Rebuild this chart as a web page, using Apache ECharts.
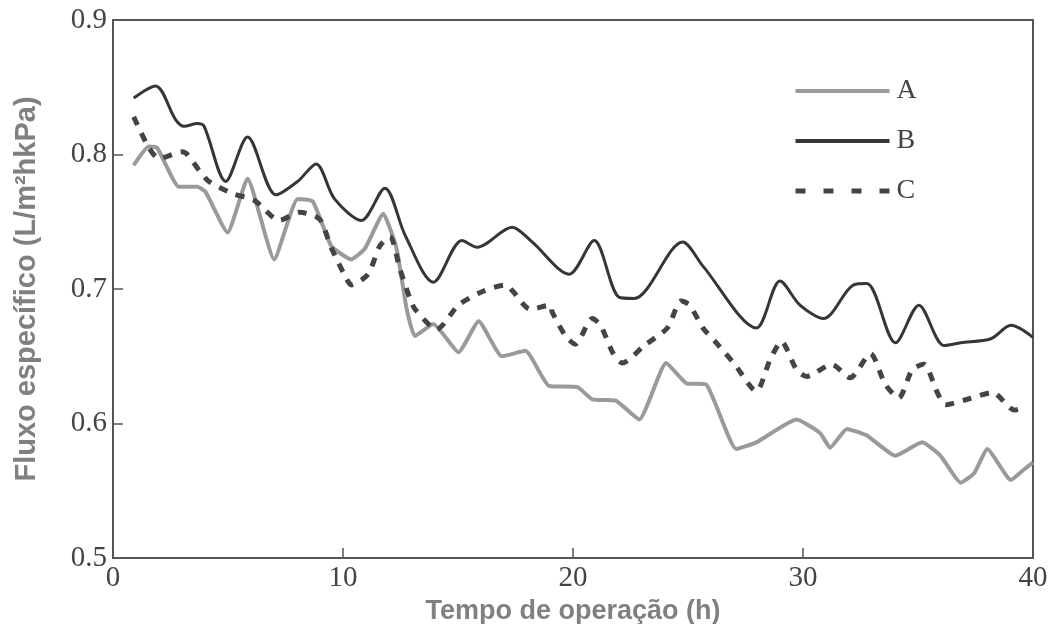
<!DOCTYPE html>
<html>
<head>
<meta charset="utf-8">
<script src="https://cdn.jsdelivr.net/npm/echarts@6/dist/echarts.min.js"></script>
<style>
  html, body { margin: 0; padding: 0; background: #fff; }
  #chart { width: 1053px; height: 624px; }
</style>
</head>
<body>
<div id="chart"></div>
<script>
// dados
var timeA = [0.9, 1.56, 1.92, 2.87, 3.67, 4.03, 4.98, 5.85, 7.01, 8.03, 8.69, 9.49, 10.36, 10.95, 11.75, 12.33, 12.77, 13.13, 13.93, 15.02, 15.9, 16.91, 17.93, 18.95, 20.19, 20.84, 21.86, 22.88, 24.05, 24.92, 25.79, 27.1, 27.97, 29.72, 30.74, 31.18, 31.91, 32.78, 34.02, 35.18, 35.98, 36.86, 37.44, 38.02, 39.04, 39.62, 40];
var fluxA = [0.792, 0.806, 0.805, 0.776, 0.776, 0.772, 0.742, 0.782, 0.722, 0.767, 0.765, 0.732, 0.722, 0.730, 0.756, 0.730, 0.685, 0.665, 0.674, 0.653, 0.676, 0.650, 0.654, 0.628, 0.627, 0.618, 0.617, 0.603, 0.645, 0.630, 0.629, 0.581, 0.586, 0.603, 0.593, 0.582, 0.596, 0.591, 0.576, 0.586, 0.576, 0.556, 0.563, 0.581, 0.558, 0.566, 0.571];

var timeB = [0.9, 1.85, 2.72, 3.09, 3.67, 3.96, 4.9, 5.85, 7.09, 8.03, 8.83, 9.63, 10.8, 11.82, 12.7, 13.93, 15.17, 15.83, 17.35, 18.22, 19.83, 20.92, 22.0, 22.66, 24.77, 25.65, 27.97, 29.0, 29.87, 30.89, 32.2, 32.78, 34.02, 35.04, 36.13, 36.86, 38.17, 39.04, 40];
var fluxB = [0.842, 0.851, 0.826, 0.821, 0.823, 0.821, 0.780, 0.813, 0.770, 0.780, 0.793, 0.767, 0.751, 0.775, 0.740, 0.705, 0.736, 0.731, 0.746, 0.735, 0.711, 0.736, 0.694, 0.693, 0.735, 0.717, 0.671, 0.706, 0.688, 0.678, 0.703, 0.704, 0.660, 0.688, 0.658, 0.660, 0.663, 0.673, 0.664];

var timeC = [0.9, 1.56, 2.0, 3.0, 3.23, 4.1, 5.2, 6.14, 7.24, 8.1, 8.98, 9.48, 10.14, 10.36, 11.09, 11.6, 12.04, 12.47, 12.91, 13.13, 14.07, 15.02, 16.04, 17.06, 17.35, 18.15, 19.02, 19.09, 19.68, 20.1, 20.84, 21.2, 21.72, 22.15, 23.1, 24.1, 24.7, 25.07, 25.65, 26.23, 27.03, 27.97, 28.56, 29.06, 29.72, 30.16, 31.25, 32.05, 32.93, 33.58, 34.16, 34.75, 35.25, 35.84, 36.2, 37.15, 38.24, 39.19, 39.6];
var fluxC = [0.828, 0.805, 0.797, 0.802, 0.800, 0.781, 0.771, 0.766, 0.751, 0.757, 0.752, 0.731, 0.708, 0.703, 0.711, 0.732, 0.739, 0.715, 0.693, 0.685, 0.670, 0.688, 0.698, 0.703, 0.699, 0.685, 0.688, 0.683, 0.665, 0.659, 0.678, 0.673, 0.653, 0.645, 0.658, 0.671, 0.691, 0.688, 0.671, 0.660, 0.644, 0.624, 0.647, 0.661, 0.640, 0.635, 0.644, 0.634, 0.652, 0.629, 0.619, 0.640, 0.644, 0.623, 0.614, 0.618, 0.623, 0.610, 0.612];

var xTicks = [0, 10, 20, 30, 40];
var yTicks = [0.5, 0.6, 0.7, 0.8, 0.9];

function pairs(xs, ys) {
	var out = [];
	for (var i = 0; i < xs.length; i++) {
		out.push([xs[i], ys[i]]);
	}
	return out;
}

var myChart = echarts.init(document.getElementById('chart'));

var tickFont = {
	fontFamily: '"Liberation Serif", "DejaVu Serif", serif',
	fontSize: 29,
	color: '#444'
};
var nameFont = {
	fontFamily: '"Liberation Sans", Arial, sans-serif',
	fontWeight: 'bold',
	color: '#808080'
};

var option = {
	animation: false,
	backgroundColor: '#fff',
	grid: {
		left: 113,
		right: 20,
		top: 20,
		bottom: 66,
		outerBoundsMode: 'none',
		containLabel: false,
		show: true,
		borderColor: '#555',
		borderWidth: 2
	},
	legend: {
		orient: 'vertical',
		left: 793,
		top: 77,
		padding: 0,
		itemWidth: 94,
		itemHeight: 14,
		itemGap: 22,
		itemStyle: { opacity: 0 },
		data: [
			{ name: 'A', lineStyle: { width: 4 } },
			{ name: 'B', lineStyle: { width: 4 } },
			{ name: 'C', lineStyle: { width: 5, type: [10, 18] } }
		],
		textStyle: {
			fontFamily: '"Liberation Serif", serif',
			fontSize: 28,
			color: '#444',
			padding: [0, 0, 0, 2]
		}
	},
	xAxis: {
		type: 'value',
		min: xTicks[0],
		max: xTicks[xTicks.length - 1],
		interval: 10,
		name: 'Tempo de operação (h)',
		nameLocation: 'middle',
		nameGap: 31,
		nameTextStyle: Object.assign({ fontSize: 27 }, nameFont),
		axisLine: { lineStyle: { color: '#555', width: 2 } },
		axisTick: { inside: true, length: 10, lineStyle: { color: '#555', width: 1.5 } },
		axisLabel: Object.assign({ margin: 6 }, tickFont),
		splitLine: { show: false }
	},
	yAxis: {
		type: 'value',
		min: yTicks[0],
		max: yTicks[yTicks.length - 1],
		interval: 0.1,
		name: 'Fluxo específico (L/m²hkPa)',
		nameLocation: 'middle',
		nameGap: 72,
		nameTextStyle: Object.assign({ fontSize: 29 }, nameFont),
		axisLine: { lineStyle: { color: '#555', width: 2 } },
		axisTick: { inside: true, length: 10, lineStyle: { color: '#555', width: 1.5 } },
		axisLabel: Object.assign({
			margin: 6,
			formatter: function(v) { return v.toFixed(1); }
		}, tickFont),
		splitLine: { show: false }
	},
	series: [{
		name: 'A',
		type: 'line',
		symbol: 'none',
		smooth: 0.15,
		data: pairs(timeA, fluxA),
		lineStyle: { color: '#9a9a9a', width: 4 },
		itemStyle: { color: '#9a9a9a' },
		z: 2
	}, {
		name: 'B',
		type: 'line',
		symbol: 'none',
		smooth: 0.3,
		data: pairs(timeB, fluxB),
		lineStyle: { color: '#363636', width: 3 },
		itemStyle: { color: '#363636' },
		z: 3
	}, {
		name: 'C',
		type: 'line',
		symbol: 'none',
		smooth: 0.25,
		data: pairs(timeC, fluxC),
		lineStyle: { color: '#444', width: 5, type: [9, 9] },
		itemStyle: { color: '#444' },
		z: 4
	}]
};

myChart.setOption(option);
</script>
</body>
</html>
